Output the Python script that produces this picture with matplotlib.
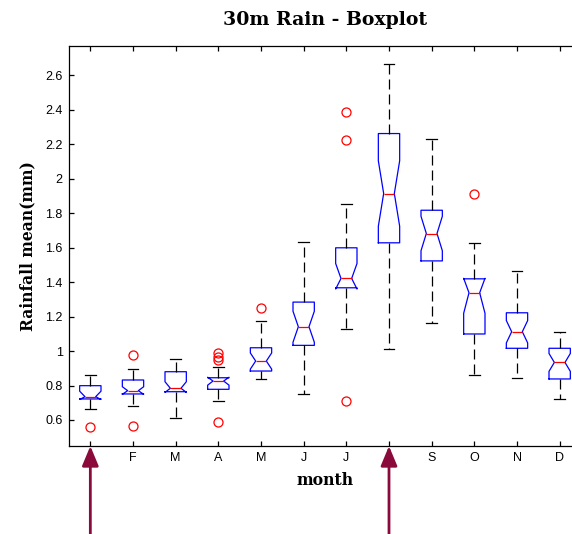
import matplotlib
matplotlib.use("Agg")
import matplotlib.pyplot as plt

# monthly rainfall box statistics
months = ["J", "F", "M", "A", "M", "J", "J", "A", "S", "O", "N", "D"]
medians = [0.735, 0.770, 0.784, 0.826, 0.942, 1.141, 1.421, 1.914, 1.682, 1.338, 1.112, 0.934]
q1 = [0.722, 0.751, 0.764, 0.778, 0.884, 1.033, 1.367, 1.628, 1.523, 1.099, 1.016, 0.838]
q3 = [0.799, 0.832, 0.880, 0.845, 1.019, 1.284, 1.599, 2.262, 1.817, 1.419, 1.222, 1.016]
whisker_low = [0.662, 0.681, 0.613, 0.710, 0.838, 0.751, 1.128, 1.010, 1.160, 0.861, 0.845, 0.722]
whisker_high = [0.861, 0.894, 0.954, 0.906, 1.174, 1.632, 1.852, 2.666, 2.229, 1.628, 1.464, 1.112]
notch_low = [0.719, 0.749, 0.760, 0.802, 0.895, 1.051, 1.360, 1.724, 1.582, 1.219, 1.047, 0.882]
notch_high = [0.767, 0.793, 0.822, 0.848, 0.989, 1.231, 1.508, 2.104, 1.782, 1.422, 1.177, 0.986]
outliers = [
    [0.558],
    [0.977, 0.565],
    [],
    [0.987, 0.967, 0.950, 0.587],
    [1.251],
    [],
    [2.387, 2.223, 0.710],
    [],
    [],
    [1.914],
    [],
    [],
]
arrow_months = [1, 8]

ARROW_COLOR = "#8a0b3b"


def main():
    fig = plt.figure(figsize=(5.72, 5.34), dpi=100)
    # axes run past the right edge like the cropped original
    ax = fig.add_axes([69 / 572, 88 / 534, 512 / 572, 400 / 534])

    stats = []
    for i in range(len(months)):
        stats.append({
            "med": medians[i],
            "q1": q1[i],
            "q3": q3[i],
            "whislo": whisker_low[i],
            "whishi": whisker_high[i],
            "cilo": notch_low[i],
            "cihi": notch_high[i],
            "fliers": outliers[i],
        })

    ax.bxp(
        stats,
        positions=range(1, len(months) + 1),
        widths=0.5,
        shownotches=True,
        boxprops=dict(color="#0000ff", linewidth=0.9),
        medianprops=dict(color="#ff0000", linewidth=0.9),
        whiskerprops=dict(color="black", linewidth=0.9, linestyle=(0, (8, 4))),
        capprops=dict(color="black", linewidth=0.9),
        flierprops=dict(marker="o", markerfacecolor="none", markeredgecolor="#ff0000",
                        markersize=6.5, markeredgewidth=0.9),
        capwidths=0.25,
    )

    ax.set_xlim(0.5, 12.5)
    ax.set_ylim(0.449, 2.77)
    ax.set_xticks(range(1, 13))
    ax.set_xticklabels(months)
    ax.set_yticks([0.6, 0.8, 1.0, 1.2, 1.4, 1.6, 1.8, 2.0, 2.2, 2.4, 2.6])
    ax.set_yticklabels(["0.6", "0.8", "1", "1.2", "1.4", "1.6", "1.8", "2", "2.2", "2.4", "2.6"])
    ax.tick_params(direction="in", length=3.6, width=0.9, top=True, right=False,
                   labelsize=9, labelfontfamily="Liberation Sans", colors="black")
    ax.tick_params(axis="x", pad=4)
    ax.tick_params(axis="y", pad=4.5)
    for side in ["left", "bottom", "top"]:
        ax.spines[side].set_linewidth(0.9)
    ax.spines["right"].set_visible(False)

    ax.set_xlabel("month", fontfamily="DejaVu Serif", fontweight="bold", fontsize=11.3)
    ax.xaxis.set_label_coords(0.5, -0.066)
    ax.set_ylabel("Rainfall mean(mm)", fontfamily="DejaVu Serif", fontweight="bold", fontsize=11.2)
    ax.yaxis.set_label_coords(-0.064, 0.5)
    fig.text(325 / 572, 1 - 20 / 534, "30m Rain - Boxplot", ha="center", va="center",
             fontfamily="DejaVu Serif", fontweight="bold", fontsize=13.6)

    # arrows marking January and August
    for m in arrow_months:
        ax.annotate(
            "",
            xy=(m, 0.0),
            xycoords=ax.get_xaxis_transform(),
            xytext=(m, -0.25),
            textcoords=ax.get_xaxis_transform(),
            arrowprops=dict(arrowstyle="-|>,head_length=1.2,head_width=0.5",
                            color=ARROW_COLOR, lw=2, shrinkA=0, shrinkB=0),
            annotation_clip=False,
        )

    fig.savefig("out.png", dpi=100)


if __name__ == "__main__":
    main()
